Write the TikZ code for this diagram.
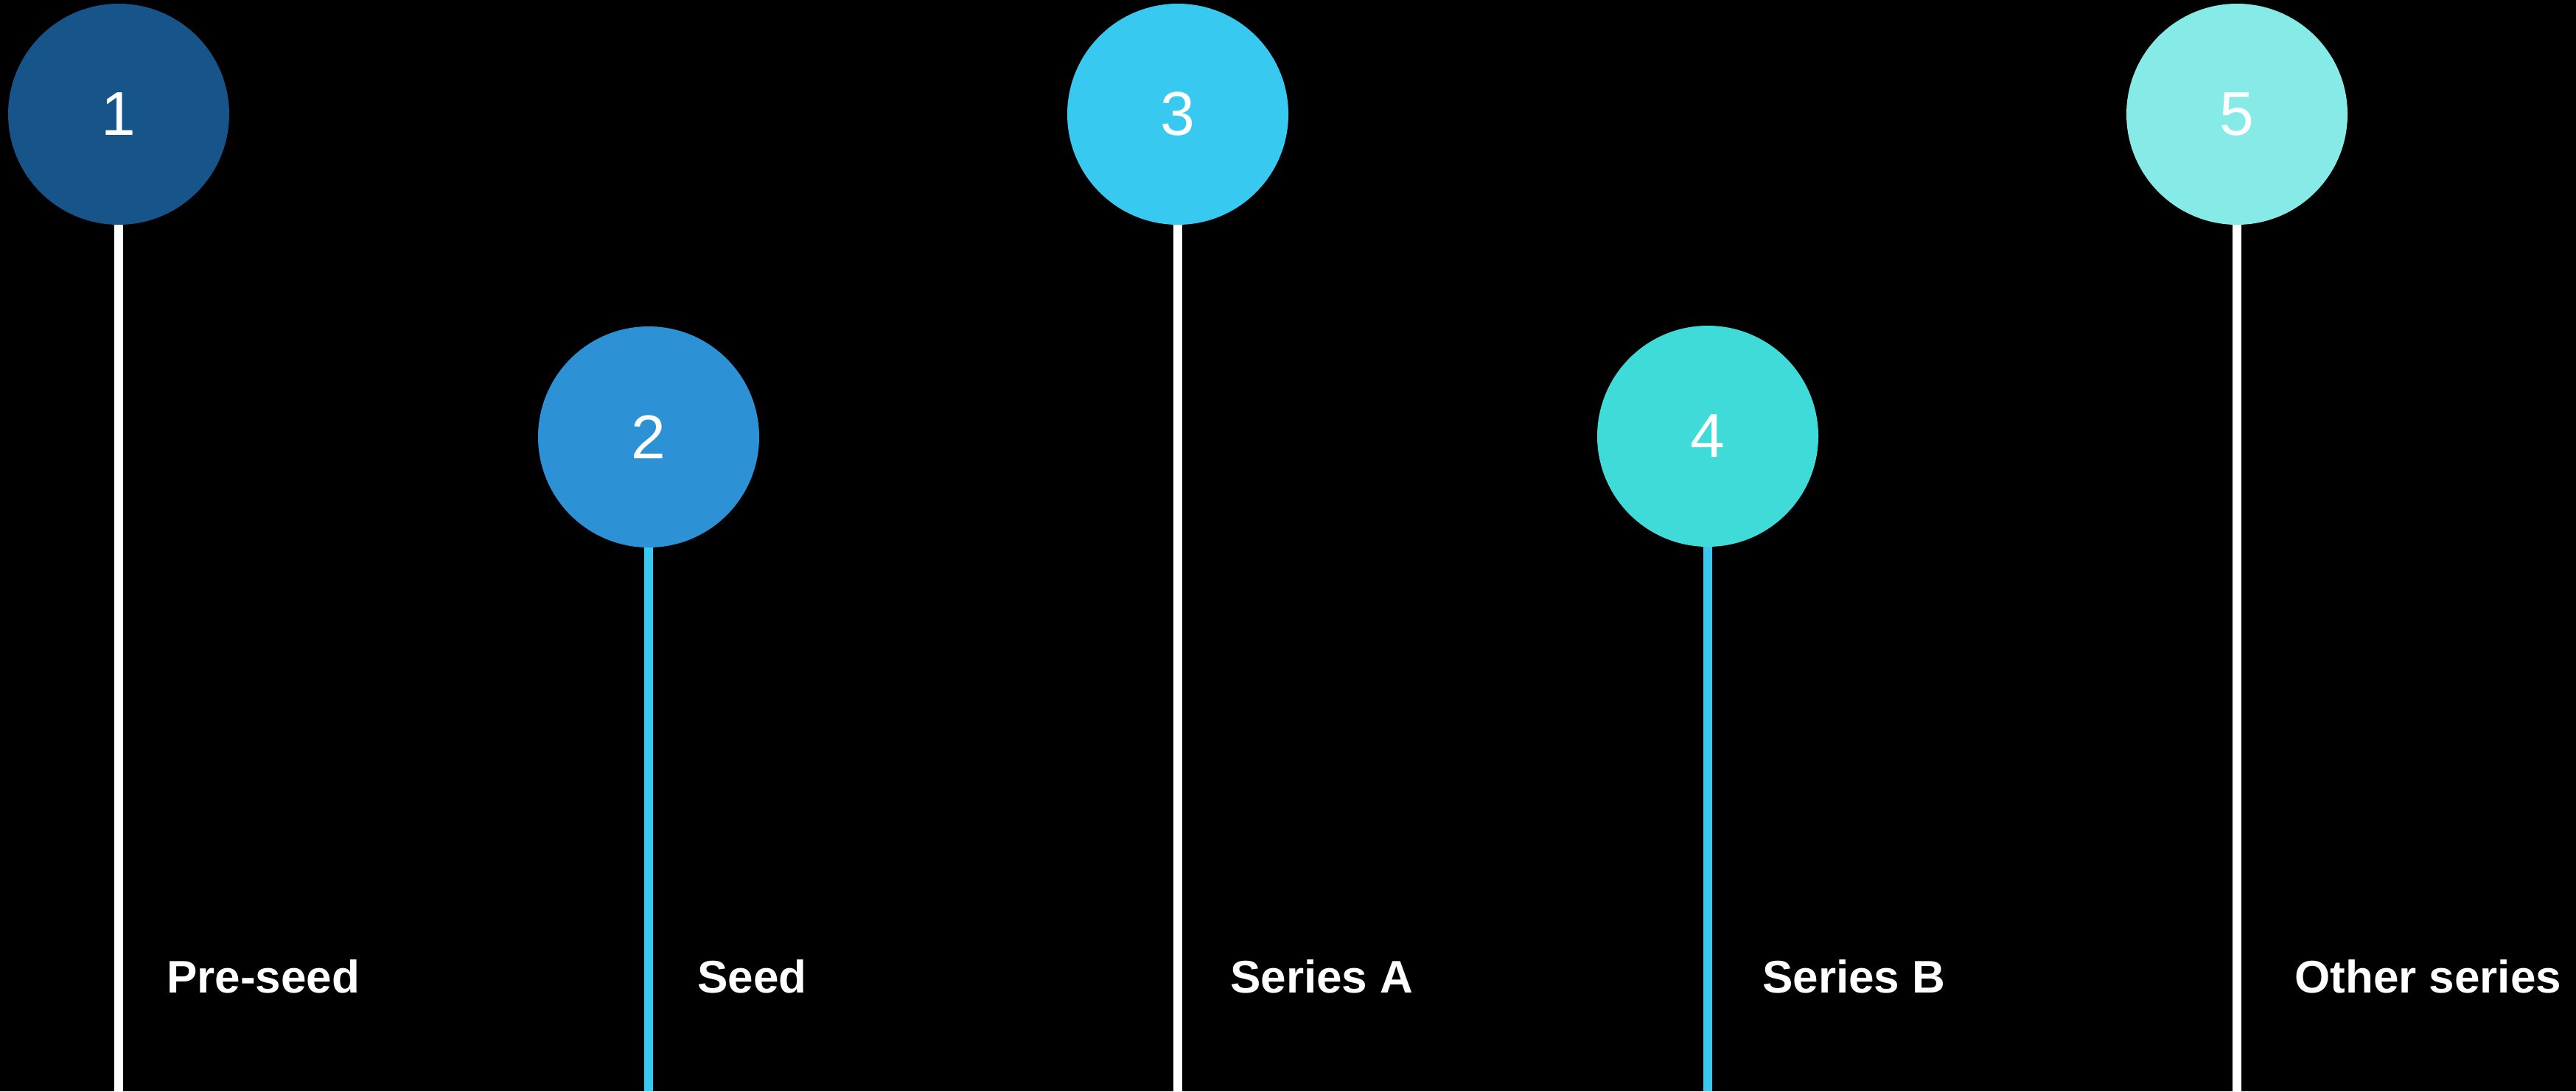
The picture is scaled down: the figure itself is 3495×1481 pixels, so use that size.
\documentclass[tikz,border=0pt]{standalone}
\usepackage{fontspec}
\setmainfont{Liberation Sans}
\definecolor{cA}{HTML}{165489}
\definecolor{cB}{HTML}{2D91D5}
\definecolor{cC}{HTML}{38C9F0}
\definecolor{cD}{HTML}{3FDBD8}
\definecolor{cE}{HTML}{86EBE7}
\definecolor{stemcyan}{HTML}{38C9F0}
\tikzset{
  bubble/.style={circle, minimum size=300pt, inner sep=0pt, text=white, font=\fontsize{84}{84}\selectfont},
  stem/.style={line width=12pt},
  stage/.style={anchor=base west, inner sep=0pt, text=white, font=\fontsize{62}{62}\selectfont\bfseries}
}
\begin{document}
\begin{tikzpicture}[x=1pt,y=-1pt]
\fill[black] (0,0) rectangle (3495,1481);
\useasboundingbox (0,0) rectangle (3495,1481);
% circles
\node[bubble, fill=cA] (n1) at (161,155) {1};
\node[bubble, fill=cB] (n2) at (880,593) {2};
\node[bubble, fill=cC] (n3) at (1598,155) {3};
\node[bubble, fill=cD] (n4) at (2317,592) {4};
\node[bubble, fill=cE] (n5) at (3035,155) {5};
% stem ends
\coordinate (b1) at (161,1481);
\coordinate (b2) at (880,1481);
\coordinate (b3) at (1598,1481);
\coordinate (b4) at (2317,1481);
\coordinate (b5) at (3035,1481);
\draw[stem, white] (n1.south) -- (b1);
\draw[stem, stemcyan] (n2.south) -- (b2);
\draw[stem, white] (n3.south) -- (b3);
\draw[stem, stemcyan] (n4.south) -- (b4);
\draw[stem, white] (n5.south) -- (b5);
% labels
\node[stage] (l1) at (226,1347) {Pre-seed};
\node[stage] (l2) at (946,1347) {Seed};
\node[stage] (l3) at (1669,1347) {Series A};
\node[stage] (l4) at (2391,1347) {Series B};
\node[stage] (l5) at (3113,1347) {Other series};
\end{tikzpicture}
\end{document}
